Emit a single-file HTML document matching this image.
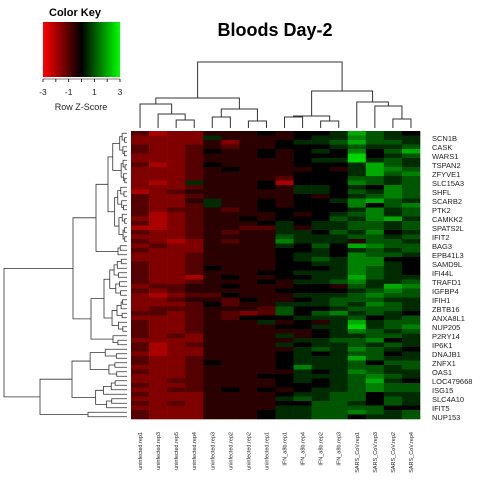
<!DOCTYPE html>
<html><head><meta charset="utf-8"><style>
body{margin:0;background:#fff}
svg{display:block;font-family:"Liberation Sans",sans-serif}
</style></head><body>
<svg id="c" width="480" height="480" viewBox="0 0 480 480">
<defs><linearGradient id="kg" x1="0" x2="1" y1="0" y2="0"><stop offset="0" stop-color="#ff0000"/><stop offset="0.5" stop-color="#000"/><stop offset="1" stop-color="#00ff00"/></linearGradient></defs>
<text x="75" y="16" text-anchor="middle" font-size="11" font-weight="bold">Color Key</text>
<rect x="43" y="22" width="77" height="55" fill="url(#kg)"/>
<g id="keyax"></g>
<text x="81" y="110" text-anchor="middle" font-size="9" fill="#222">Row Z-Score</text>
<text x="275" y="36" text-anchor="middle" font-size="18" font-weight="bold">Bloods Day-2</text>
<g id="cells"></g>
<g id="coldend" stroke="#333" fill="none" stroke-width="1"></g>
<g id="rowdend" stroke="#333" fill="none" stroke-width="0.8"></g>
<g id="rowlab"></g>
<g id="collab"></g>
</svg>
<script>
const colLabels=["uninfected.rep1","uninfected.rep3","uninfected.rep5","uninfected.rep4","uninfected.rep3","uninfected.rep2","uninfected.rep2","uninfected.rep1","IFN_a8b.rep1","IFN_a8b.rep4","IFN_a8b.rep2","IFN_a8b.rep3","SARS_CoV.rep1","SARS_CoV.rep3","SARS_CoV.rep2","SARS_CoV.rep4"];
const rowLabels=["SCN1B","CASK","WARS1","TSPAN2","ZFYVE1","SLC15A3","SHFL","SCARB2","PTK2","CAMKK2","SPATS2L","IFIT2","BAG3","EPB41L3","SAMD9L","IFI44L","TRAFD1","IGFBP4","IFIH1","ZBTB16","ANXA8L1","NUP205","P2RY14","IP6K1","DNAJB1","ZNFX1","OAS1","LOC479668","ISG15","SLC4A10","IFIT5","NUP153"];
const keyTicks=[-3,-1,1,3];
const rowsEnc=["DBCCEEEFEFFGJHGF","CCCCGEEEEFGGIHGG","CCCCECEEFGGHJHHG","DCCDEDEEFFFGHGGH","DCCDFEEFEFGFIFHJ","CCCDEEEFEFFFKFGH","CCCDEEEEEFGGKGHG","DBCDFEEEEFFFGJHG","CCCDEFEEEEFEGJIH","CCCDEEEEEFFFGJHI","CCCDEEEEDFFFHHGH","CBCGEEEFBFFFIHGH","CCCDEEEFEGGFGFIH","BCDEEEEEEGGFHGIH","DCCDEEEEEFEFGHIH","DCCEGEEFEFFGIJHG","DCCDGEEFEFFFIFHI","DCDDEDEFFFFFGIGH","DBCDEEEEFEFGHIGH","CBCDEEFEFFFHGIJG","DBCDEEEFGFGGHHGH","BBCDEEDDGEGGHHGH","DCCDEDEEGGFHGIFG","CCCDEEEEHGGGHHGH","DCBCEDEEIGGGEHHG","CDCCEEEEGFHFJIHH","DCCCEEEEFFGFGHGH","CCCDEEEEFGGFIHHG","CCCDEEEEFGHGIIFF","DCCDEEEEFFGGIIGF","DCCDFEEEFFFGIHGF","DCCDEEEFFGGGIHGF","DCCBEFEEFFGGJHGG","DCCDEEEFEGGHIGGH","CDDEEFEEEFFEHGJI","DCDEEEEEFFFFGHIH","CBCDDFEEEGGGHIHH","CCDEEDFEEFGHHHGG","CCCDFDEEGGGHGIHG","CDDDEEEDHFFGHHHG","DDCDEDCDHFHIGHGF","CCCDEDFFFGGGHFGH","DCCDEEEGEFEGJGHH","DCCDEEEEFFGGKGHI","DCCDEEEEEEFGIHGH","DCDCEEEEGEFGGHHG","CCCCEEEEEGGHHIFG","DBCDEEEEGFGGHGHG","DBCCEEEEEGHGIHGF","CBCCEEEEFGFGHHFG","DCCDEEEEFGGGJHGG","DCCDFEEEFGGGHFHH","CCCDEEEEFIGGHHGH","DCCDEEEEEGFGIHGG","CCCDEEEFFGGGHIHG","CCDDEEEEFGFGHJGF","DCCDEEEEFFFGHIHH","CCDDEFEFEFGGHIHH","DCCCEEEEFGGHHFGG","CCCCEEEEGHGHHFHG","DCDCEEEEFFHHGFHG","CCCCEEEEGGHHHHFF","DCCCEEEFGGHHIHGH","DCCCEEEFGGHHFGGH"];
const NS="http://www.w3.org/2000/svg";
function mk(t,a,p){const e=document.createElementNS(NS,t);for(const k in a)e.setAttribute(k,a[k]);p.appendChild(e);return e;}
const X0=131,X1=420,Y0=131,Y1=419,NC=16,NR=rowsEnc.length;
const cw=(X1-X0)/NC,rh=(Y1-Y0)/NR;
const xc=i=>X0+cw*i+cw/2, yr=r=>Y0+rh*r+rh/2;
function val(ch){return (ch.charCodeAt(0)-70)*0.5;}
function col(v){const t=Math.min(1,Math.abs(v)/3);const c=Math.round(255*t);return v<0?`rgb(${c},0,0)`:`rgb(0,${c},0)`;}
const cells=document.getElementById('cells');
rowsEnc.forEach((s,r)=>{for(let c=0;c<NC;c++){const e=mk('rect',{x:X0+cw*c,y:Y0+rh*r,width:cw+0.3,height:rh+0.3,fill:col(val(s[c]))},cells);

}});
const ka=document.getElementById('keyax');const kx=v=>43+(v+3)/6*77;
mk('line',{x1:43,x2:120,y1:79,y2:79,stroke:'#000','stroke-width':0.6},ka);
for(let v=-3;v<=3;v++){mk('line',{x1:kx(v),x2:kx(v),y1:79,y2:82,stroke:'#000','stroke-width':0.8},ka);}
keyTicks.forEach(v=>{const t=mk('text',{x:kx(v),y:95,'text-anchor':'middle','font-size':8.5,fill:'#222'},ka);t.textContent=v;

});
const rl=document.getElementById('rowlab');
rowLabels.forEach((l,i)=>{const t=mk('text',{x:432,y:yr(2*i+1)+3,'font-size':7.5,fill:'#222'},rl);t.textContent=l;

});
const cl=document.getElementById('collab');
colLabels.forEach((l,i)=>{const x=xc(i)+2,y=432;const t=mk('text',{x:x,y:y,'text-anchor':'end','font-size':5.5,fill:'#222',transform:`rotate(-90 ${x} ${y})`},cl);t.textContent=l;

});
const colTree=[62,[98,[104,0,[114,1,[120,2,3]]],[109,[117,4,5],[121,6,7]]],[91,[116,[117,8,9],[121,10,11]],[102,12,[106,13,[119,14,15]]]]];
const cd=document.getElementById('coldend');
function drawC(n){if(typeof n==='number')return {x:xc(n),y:128};const a=drawC(n[1]),b=drawC(n[2]),y=n[0];
mk('path',{d:`M${a.x},${a.y}V${y}H${b.x}V${b.y}`},cd);return {x:(a.x+b.x)/2,y:y};}
drawC(colTree);
const rd=document.getElementById('rowdend');const LX=127;
function auto(s,e,x){if(s===e)return {y:yr(s),x:LX};const n=e-s+1;let m=s+Math.max(0,Math.min(n-2,Math.floor(n/2)+((s*7+e*3)%3)-1));
const f=0.25+((s+e)%4)*0.08;const cx1=x+(LX-x)*f,cx2=x+(LX-x)*(f+0.1);
const a=auto(s,m,Math.min(cx1,LX-1)),b=auto(m+1,e,Math.min(cx2,LX-1));return join(a,b,x);}
function join(a,b,x){mk('path',{d:`M${a.x},${a.y}H${x}V${b.y}H${b.x}`},rd);return {x:x,y:(a.y+b.y)/2};}
const A1=join(auto(0,24,108),auto(25,27,118),96);
const A2=join(auto(28,44,104),auto(45,47,113),91);
const A=join(A1,A2,73);
const B=join(auto(48,61,72),auto(62,63,88),40);
join(A,B,4);
</script>
</body></html>
